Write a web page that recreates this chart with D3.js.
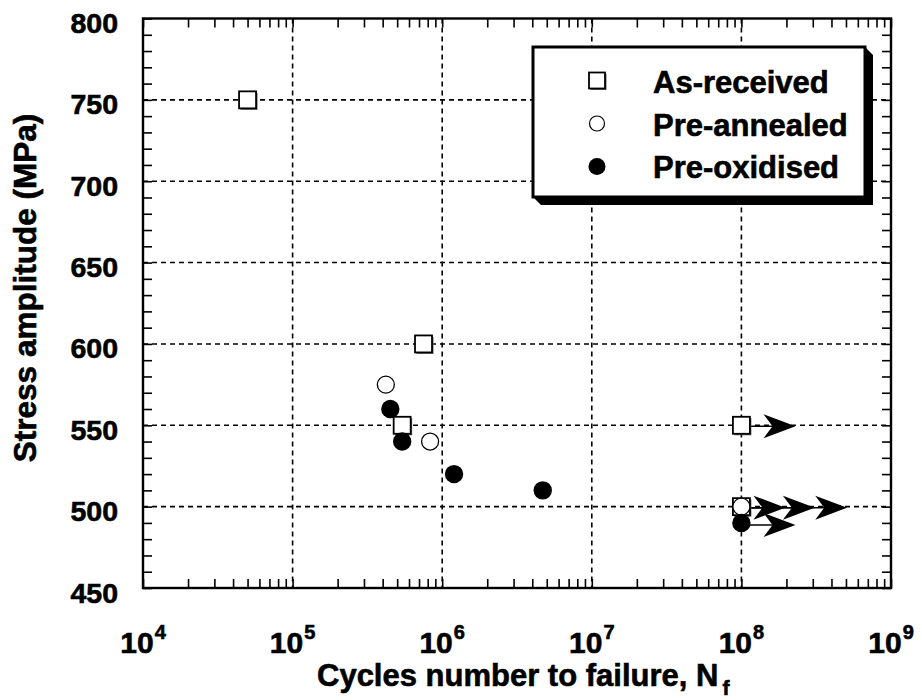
<!DOCTYPE html>
<html>
<head>
<meta charset="utf-8">
<script src="https://cdn.jsdelivr.net/npm/d3@7"></script>
<style>
  body { margin: 0; background: #fff; }
  svg text { font-family: "Liberation Sans", Arial, sans-serif; font-weight: bold; fill: #000;
             stroke: #000; stroke-width: 0.6px; }
</style>
</head>
<body>
<svg id="chart" width="922" height="700"></svg>
<script>
// data
var asReceivedN = [5e4, 7.5e5, 5.4e5, 1e8, 1e8];
var asReceivedS = [750, 600, 550, 550, 500];
var preAnnealedN = [4.2e5, 8.3e5, 1e8];
var preAnnealedS = [575, 540, 500];
var preOxidisedN = [4.5e5, 5.4e5, 1.2e6, 4.7e6, 1e8];
var preOxidisedS = [560, 540, 520, 510, 490];
// run-outs (specimens not broken at 1e8 cycles)
var runoutS = [550, 500, 500, 500, 490];
var runoutTip = [2.3e8, 1.97e8, 3.1e8, 5.1e8, 2.3e8];

var xDecades = [4, 5, 6, 7, 8, 9];
var yTicks = [450, 500, 550, 600, 650, 700, 750, 800];
var legendLabels = ["As-received", "Pre-annealed", "Pre-oxidised"];

var svg = d3.select("#chart");
var pLeft = 143, pRight = 891, pTop = 18.5, pBottom = 588;

var x = d3.scaleLog().domain([1e4, 1e9]).range([pLeft, pRight]);
var y = d3.scaleLinear().domain([450, 800]).range([pBottom, pTop]);

var majorX = xDecades.map(function(d){ return Math.pow(10, d); });
var minorX = [];
xDecades.slice(0, -1).forEach(function(d){
    for (var k = 2; k < 10; k++) minorX.push(k * Math.pow(10, d));
});
var minorY = d3.range(450, 801, 10);

// dashed grid
var grid = svg.append("g").attr("stroke", "#000").attr("stroke-width", 1.6)
    .attr("stroke-dasharray", "5,4");
grid.selectAll(".gx").data(majorX.slice(1, -1)).enter().append("line")
    .attr("x1", function(d){ return x(d); }).attr("x2", function(d){ return x(d); })
    .attr("y1", pTop).attr("y2", pBottom);
grid.selectAll(".gy").data(yTicks.slice(1, -1)).enter().append("line")
    .attr("y1", function(d){ return y(d); }).attr("y2", function(d){ return y(d); })
    .attr("x1", pLeft).attr("x2", pRight);

// inward ticks on all four sides
function tickAxis(axis, tr){
    var g = svg.append("g").attr("transform", tr).call(axis);
    g.select(".domain").remove();
    g.selectAll(".tick line").attr("stroke", "#000").attr("stroke-width", 1.6);
    g.selectAll("text").remove();
    return g;
}
var tx = majorX.concat(minorX);
tickAxis(d3.axisBottom(x).tickValues(tx).tickSize(-9), "translate(0," + pBottom + ")");
tickAxis(d3.axisTop(x).tickValues(tx).tickSize(-9), "translate(0," + pTop + ")");
tickAxis(d3.axisLeft(y).tickValues(minorY).tickSize(-9), "translate(" + pLeft + ",0)");
tickAxis(d3.axisRight(y).tickValues(minorY).tickSize(-9), "translate(" + pRight + ",0)");

svg.append("rect").attr("x", pLeft).attr("y", pTop)
    .attr("width", pRight - pLeft).attr("height", pBottom - pTop)
    .attr("fill", "none").attr("stroke", "#000").attr("stroke-width", 2.4);

// tick labels
svg.selectAll(".ylab").data(yTicks).enter().append("text")
    .attr("x", 118).attr("y", function(d){ return y(d) + 14.5; })
    .attr("text-anchor", "end").attr("font-size", 28.5).text(function(d){ return d; });

var xl = svg.selectAll(".xlab").data(xDecades).enter().append("text")
    .attr("x", function(d){ return x(Math.pow(10, d)); }).attr("y", 653)
    .attr("text-anchor", "middle").attr("font-size", 30);
xl.append("tspan").text("10");
xl.append("tspan").attr("font-size", 20).attr("dy", -14).attr("dx", 1)
    .text(function(d){ return d; });

// axis titles
var xt = svg.append("text").attr("x", 317).attr("y", 686).attr("font-size", 31);
xt.append("tspan").text("Cycles number to failure, N");
xt.append("tspan").attr("font-size", 21).attr("dy", 9).attr("dx", 4).text("f");

svg.append("text").attr("transform", "translate(36,288) rotate(-90)")
    .attr("text-anchor", "middle").attr("font-size", 31.5)
    .text("Stress amplitude (MPa)");

// run-out arrows
var arrowHead = "M0,0 L-32,-12 L-23,0 L-32,12 Z";
var ro = svg.append("g");
ro.selectAll("line").data(runoutS).enter().append("line")
    .attr("x1", x(1e8)).attr("x2", function(d, i){ return x(runoutTip[i]) - 10; })
    .attr("y1", function(d){ return y(d) + (d < 500 ? 2 : 1); })
    .attr("y2", function(d){ return y(d) + (d < 500 ? 2 : 1); })
    .attr("stroke", "#000").attr("stroke-width", 1.5);
ro.selectAll("path").data(runoutS).enter().append("path")
    .attr("d", arrowHead).attr("fill", "#000")
    .attr("transform", function(d, i){
        return "translate(" + x(runoutTip[i]) + "," + (y(d) + (d < 500 ? 2 : 1)) + ")";
    });

// markers
function square(g, cx, cy, s){
    g.append("rect").attr("x", cx - s / 2 + 1.5).attr("y", cy - s / 2 + 1.5)
        .attr("width", s).attr("height", s).attr("fill", "#666");
    g.append("rect").attr("x", cx - s / 2).attr("y", cy - s / 2)
        .attr("width", s).attr("height", s)
        .attr("fill", "#fff").attr("stroke", "#000").attr("stroke-width", 1.8);
}
var pts = svg.append("g");
asReceivedN.forEach(function(n, i){ square(pts, x(n), y(asReceivedS[i]), 17); });
pts.selectAll(".pa").data(preAnnealedN).enter().append("circle")
    .attr("cx", function(d){ return x(d); })
    .attr("cy", function(d, i){ return y(preAnnealedS[i]); })
    .attr("r", 8.5).attr("fill", "#fff").attr("stroke", "#000").attr("stroke-width", 1.3);
pts.selectAll(".po").data(preOxidisedN).enter().append("circle")
    .attr("cx", function(d){ return x(d); })
    .attr("cy", function(d, i){ return y(preOxidisedS[i]); })
    .attr("r", 9.2).attr("fill", "#000");

// legend with drop shadow
var lx0 = 533, ly0 = 47, lx1 = 865, ly1 = 197, sh = 8;
var leg = svg.append("g");
leg.append("path").attr("fill", "#000")
    .attr("d", "M" + lx1 + "," + ly0 + " L" + (lx1 + sh) + "," + (ly0 + sh) +
        " L" + (lx1 + sh) + "," + (ly1 + sh) + " L" + (lx0 + sh) + "," + (ly1 + sh) +
        " L" + lx0 + "," + ly1 + " Z");
leg.append("rect").attr("x", lx0).attr("y", ly0)
    .attr("width", lx1 - lx0).attr("height", ly1 - ly0)
    .attr("fill", "#fff").attr("stroke", "#000").attr("stroke-width", 3);
square(leg, 597, 80.5, 16);
leg.append("circle").attr("cx", 597).attr("cy", 123.5).attr("r", 7.5)
    .attr("fill", "#fff").attr("stroke", "#000").attr("stroke-width", 1.2);
leg.append("circle").attr("cx", 597).attr("cy", 166.5).attr("r", 8.5).attr("fill", "#000");
leg.selectAll(".lt").data(legendLabels).enter().append("text")
    .attr("x", 653).attr("y", function(d, i){ return [93, 136, 178][i]; })
    .attr("font-size", 31).text(function(d){ return d; });
</script>
</body>
</html>
